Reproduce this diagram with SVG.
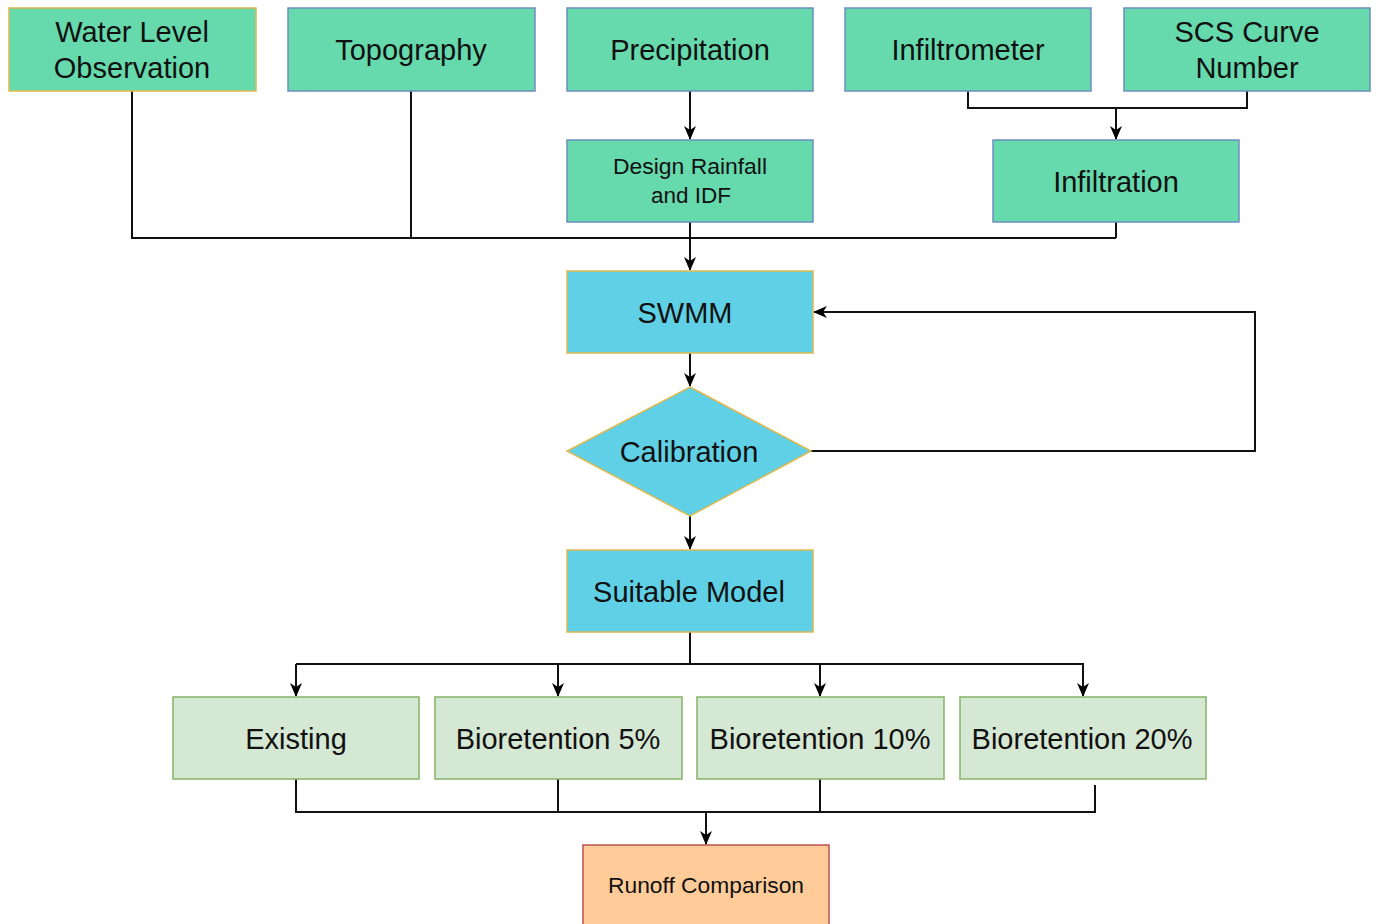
<svg xmlns="http://www.w3.org/2000/svg" width="1378" height="924" viewBox="0 0 1378 924">
<defs>
<marker id="ah" viewBox="0 0 14 14" refX="13" refY="7" markerWidth="14" markerHeight="14" markerUnits="userSpaceOnUse" orient="auto">
<path d="M0,1 L14,7 L0,13 L4,7 Z" fill="#000"/>
</marker>
<style>
text{font-family:"Liberation Sans",Arial,sans-serif;fill:#111;text-anchor:middle;dominant-baseline:central}
.t{font-size:29px}
.s{font-size:22px}
.g{fill:#66d9ad;stroke:#6c8ebf;stroke-width:1.5}
.go{fill:#66d9ad;stroke:#e0b850;stroke-width:1.5}
.b{fill:#5fd0e6;stroke:#e0b850;stroke-width:1.5}
.l{fill:#d5e8d4;stroke:#82b366;stroke-width:1.5}
.o{fill:#ffcc99;stroke:#c0504d;stroke-width:1.5}
.c{fill:none;stroke:#111;stroke-width:2}
</style>
</defs>
<rect width="1378" height="924" fill="#fff"/>
<g id="connectors">
<path class="c" d="M132,91 V238 H1116"/>
<path class="c" d="M411,91 V238"/>
<path class="c" d="M1116,222 V238"/>
<path class="c" d="M690,222 V270" marker-end="url(#ah)"/>
<path class="c" d="M690,91 V139" marker-end="url(#ah)"/>
<path class="c" d="M968,91 V108 H1247 V91"/>
<path class="c" d="M1116,108 V139" marker-end="url(#ah)"/>
<path class="c" d="M690,353 V386" marker-end="url(#ah)"/>
<path class="c" d="M811,451 H1255 V312 H814" marker-end="url(#ah)"/>
<path class="c" d="M690,516 V549" marker-end="url(#ah)"/>
<path class="c" d="M690,632 V664"/>
<path class="c" d="M296,664 H1083 V696" marker-end="url(#ah)"/>
<path class="c" d="M296,664 V696" marker-end="url(#ah)"/>
<path class="c" d="M558,664 V696" marker-end="url(#ah)"/>
<path class="c" d="M820,664 V696" marker-end="url(#ah)"/>
<path class="c" d="M296,779 V812 H1095 V785"/>
<path class="c" d="M558,779 V812"/>
<path class="c" d="M820,779 V812"/>
<path class="c" d="M706,812 V844" marker-end="url(#ah)"/>
</g>
<g id="water-level"><rect class="go" x="9" y="8" width="247" height="83"/><text class="t" x="132" y="32">Water Level</text><text class="t" x="132" y="68">Observation</text></g>
<g id="topography"><rect class="g" x="288" y="8" width="247" height="83"/><text class="t" x="411" y="50">Topography</text></g>
<g id="precipitation"><rect class="g" x="567" y="8" width="246" height="83"/><text class="t" x="690" y="50">Precipitation</text></g>
<g id="infiltrometer"><rect class="g" x="845" y="8" width="246" height="83"/><text class="t" x="968" y="50">Infiltrometer</text></g>
<g id="scs"><rect class="g" x="1124" y="8" width="246" height="83"/><text class="t" x="1247" y="32">SCS Curve</text><text class="t" x="1247" y="68">Number</text></g>
<g id="design-rainfall"><rect class="g" x="567" y="140" width="246" height="82"/><text class="s" x="690" y="166" textLength="154" lengthAdjust="spacingAndGlyphs">Design Rainfall</text><text class="s" x="691" y="195" textLength="80" lengthAdjust="spacingAndGlyphs">and IDF</text></g>
<g id="infiltration"><rect class="g" x="993" y="140" width="246" height="82"/><text class="t" x="1116" y="182">Infiltration</text></g>
<g id="swmm"><rect class="b" x="567" y="271" width="246" height="82"/><text class="t" x="685" y="313">SWMM</text></g>
<g id="calibration"><polygon class="b" points="690,387 811,451 690,516 567,451"/><text class="t" x="689" y="452">Calibration</text></g>
<g id="suitable-model"><rect class="b" x="567" y="550" width="246" height="82"/><text class="t" x="689" y="592">Suitable Model</text></g>
<g id="existing"><rect class="l" x="173" y="697" width="246" height="82"/><text class="t" x="296" y="739">Existing</text></g>
<g id="bio5"><rect class="l" x="435" y="697" width="247" height="82"/><text class="t" x="558" y="739">Bioretention 5%</text></g>
<g id="bio10"><rect class="l" x="697" y="697" width="247" height="82"/><text class="t" x="820" y="739">Bioretention 10%</text></g>
<g id="bio20"><rect class="l" x="960" y="697" width="246" height="82"/><text class="t" x="1082" y="739">Bioretention 20%</text></g>
<g id="runoff"><rect class="o" x="583" y="845" width="246" height="90"/><text class="s" x="706" y="885" textLength="196" lengthAdjust="spacingAndGlyphs">Runoff Comparison</text></g>
</svg>
